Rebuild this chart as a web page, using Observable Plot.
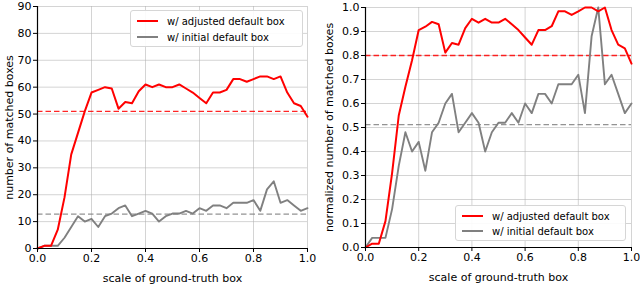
<!DOCTYPE html>
<html><head><meta charset="utf-8">
<script src="https://cdn.jsdelivr.net/npm/d3@7"></script>
<script src="https://cdn.jsdelivr.net/npm/@observablehq/plot@0.6"></script>
<style>
body{margin:0;background:#fff;font-family:"DejaVu Sans",sans-serif;}
#wrap{display:flex;width:640px;height:284px;overflow:hidden;}
.panel{position:relative;width:320px;height:284px;}
.legend{position:absolute;background:rgba(255,255,255,0.9);border:1px solid #d6d6d6;border-radius:3px;font-size:10px;color:#000;box-sizing:border-box;}
.legend .row{position:absolute;left:0;height:14px;display:flex;align-items:center;white-space:nowrap;}
.legend .sw{display:inline-block;width:21px;margin-left:6px;margin-right:9px;}
</style></head>
<body><div id="wrap"><div class="panel" id="p1"></div><div class="panel" id="p2"></div></div>
<script>
const scales = [0.000,0.025,0.050,0.075,0.100,0.125,0.150,0.175,0.200,0.225,0.250,0.275,0.300,0.325,0.350,0.375,0.400,0.425,0.450,0.475,0.500,0.525,0.550,0.575,0.600,0.625,0.650,0.675,0.700,0.725,0.750,0.775,0.800,0.825,0.850,0.875,0.900,0.925,0.950,0.975,1.000];
const countAdjusted = [0,1,1,7,19,35,43,51,58,59,60,59.5,52,54.5,54,58.5,61,60,61,60,60,61,59.5,58,56,54,58,58,59,63,63,62,63,64,64,63,64,58,54,53,49];
const countInitial  = [0,1,1,1,4,8,12,10,11,8,12,13,15,16,12,13,14,13,10,12,13,13,14,13,15,14,16,16,15,17,17,17,18,14,22,25,17,18,16,14,15];
const normAdjusted  = [0,0.016,0.016,0.11,0.31,0.55,0.67,0.78,0.906,0.92,0.94,0.93,0.812,0.852,0.845,0.914,0.953,0.937,0.953,0.937,0.937,0.953,0.93,0.906,0.875,0.845,0.906,0.906,0.922,0.984,0.984,0.969,0.984,1.0,1.0,0.984,1.0,0.906,0.845,0.83,0.766];
const normInitial   = [0,0.04,0.04,0.04,0.16,0.34,0.48,0.40,0.44,0.32,0.48,0.52,0.60,0.64,0.48,0.52,0.56,0.52,0.40,0.48,0.52,0.52,0.56,0.52,0.60,0.56,0.64,0.64,0.60,0.68,0.68,0.68,0.72,0.56,0.88,1.0,0.68,0.72,0.64,0.56,0.60];
const countMeans = [51, 12.8];
const normMeans = [0.80, 0.512];
const xTicks = [0,0.2,0.4,0.6,0.8,1.0];
const countTicks = [0,10,20,30,40,50,60,70,80,90];
const normTicks = [0,0.1,0.2,0.3,0.4,0.5,0.6,0.7,0.8,0.9,1.0];
const seriesNames = ["w/ adjusted default box","w/ initial default box"];
const xLabel = "scale of ground-truth box";
const yLabels = ["number of matched boxes","normalized number of matched boxes"];

const RED = "#ff0000", GRAY = "#808080";

function chart(adj, ini, means, yDomain, yTicks, yFmt, ylabel, m){
  const a = scales.map((s,i)=>({x:s,y:adj[i]}));
  const b = scales.map((s,i)=>({x:s,y:ini[i]}));
  return Plot.plot({
    width:320, height:284,
    marginLeft:m.l, marginRight:m.r, marginTop:m.t, marginBottom:m.b,
    style:{fontFamily:"DejaVu Sans, sans-serif", fontSize:"11px", color:"#000", background:"transparent", overflow:"visible"},
    x:{domain:[0,1]},
    y:{domain:yDomain},
    marks:[
      Plot.gridX(xTicks,{stroke:"#b0b0b0", strokeOpacity:0.55, strokeWidth:1}),
      Plot.gridY(yTicks,{stroke:"#b0b0b0", strokeOpacity:0.55, strokeWidth:1}),
      Plot.ruleY([means[0]],{stroke:RED, strokeDasharray:"5.5,3", strokeWidth:1.4, strokeOpacity:0.85}),
      Plot.ruleY([means[1]],{stroke:GRAY, strokeDasharray:"5.5,3", strokeWidth:1.4, strokeOpacity:0.85}),
      Plot.line(b,{x:"x",y:"y",stroke:GRAY,strokeWidth:1.9}),
      Plot.line(a,{x:"x",y:"y",stroke:RED,strokeWidth:2}),
      Plot.axisX(xTicks,{tickSize:4, tickPadding:2, tickFormat:d3.format(".1f"), label:xLabel, labelAnchor:"center", labelArrow:"none", labelOffset:m.xlo, fontSize:11}),
      Plot.axisY(yTicks,{tickSize:4, tickPadding:2, tickFormat:yFmt, label:ylabel, labelAnchor:"center", labelArrow:"none", labelOffset:m.ylo, fontSize:11}),
      Plot.ruleX([0],{stroke:"#000", strokeWidth:1.2}),
      Plot.ruleY([yDomain[0]],{stroke:"#000", strokeWidth:1.2})
    ]
  });
}

function legend(panel, box){
  const lg = document.createElement("div");
  lg.className = "legend";
  Object.assign(lg.style,{left:box.x+"px", top:box.y+"px", width:box.w+"px", height:box.h+"px"});
  [RED,GRAY].forEach((c,i)=>{
    const row = document.createElement("div");
    row.className="row";
    row.style.top = (box.rowTop + i*box.rowGap) + "px";
    const sw = document.createElement("span");
    sw.className="sw";
    sw.style.borderTop = "2px solid "+c;
    row.appendChild(sw);
    const t = document.createElement("span");
    t.textContent = seriesNames[i];
    row.appendChild(t);
    lg.appendChild(row);
  });
  panel.appendChild(lg);
}

const p1 = document.getElementById("p1");
p1.appendChild(chart(countAdjusted, countInitial, countMeans, [0,90], countTicks, d3.format("d"), yLabels[0], {l:37,r:13,t:6,b:36,xlo:33,ylo:32}));
legend(p1,{x:130,y:10,w:173,h:37,rowTop:3,rowGap:16});

const p2 = document.getElementById("p2");
p2.appendChild(chart(normAdjusted, normInitial, normMeans, [0,1], normTicks, d3.format(".1f"), yLabels[1], {l:45,r:9,t:7,b:37,xlo:33,ylo:40}));
legend(p2,{x:135,y:205,w:171,h:36,rowTop:3,rowGap:15});
</script></body></html>
